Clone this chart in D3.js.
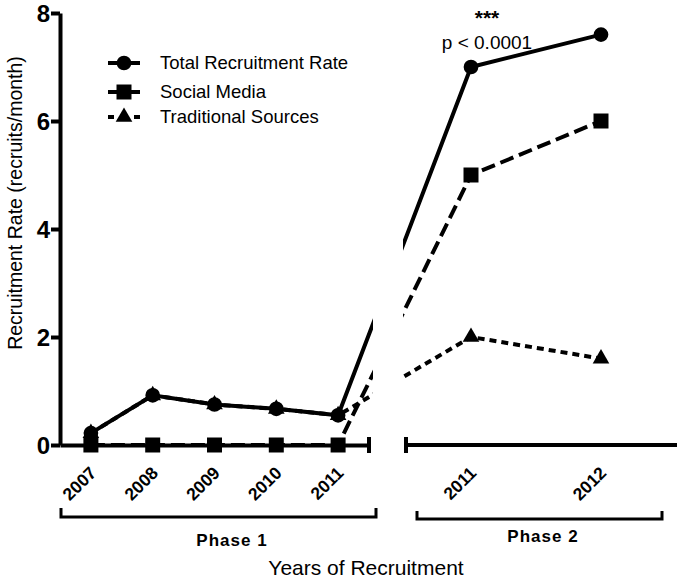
<!DOCTYPE html>
<html>
<head>
<meta charset="utf-8">
<script src="https://cdn.jsdelivr.net/npm/d3@7"></script>
<style>
  body { margin: 0; background: #fff; }
  svg { display: block; font-family: "Liberation Sans", Arial, sans-serif; }
  .axis path, .axis line { stroke: #000; stroke-width: 4; }
  .axis text { fill: #000; font-weight: bold; font-family: "Liberation Sans", Arial, sans-serif; }
</style>
</head>
<body>
<div class="chart"></div>
<script>
// categories
const phase1Years = ['2007', '2008', '2009', '2010', '2011']
const phase2Years = ['2011', '2012']
const yTicks = [0, 2, 4, 6, 8]

// series values (recruits/month), phase 1 then phase 2
const totalP1 = [0.22, 0.92, 0.75, 0.67, 0.55]
const totalP2 = [7.0, 7.6]
const socialP1 = [0, 0, 0, 0, 0]
const socialP2 = [5.0, 6.0]
const tradP1 = [0.22, 0.92, 0.75, 0.67, 0.55]
const tradP2 = [2.0, 1.6]

const seriesNames = ['Total Recruitment Rate', 'Social Media', 'Traditional Sources']

const width = 677, height = 582

const svg = d3.select('.chart').append('svg')
  .attr('width', width)
  .attr('height', height)

const yScale = d3.scaleLinear().domain([0, 8]).range([445, 13])
const x1 = d3.scalePoint().domain(phase1Years).range([60, 369]).padding(0.5)
const x2 = d3.scalePoint().domain(phase2Years).range([406, 666]).padding(0.5)

const toPoints = (p1, p2) =>
  p1.map((v, i) => ({x: x1(phase1Years[i]), y: yScale(v)}))
    .concat(p2.map((v, i) => ({x: x2(phase2Years[i]), y: yScale(v)})))

const series = [
  {name: seriesNames[0], pts: toPoints(totalP1, totalP2), dash: null, symbol: d3.symbolCircle, size: 170},
  {name: seriesNames[1], pts: toPoints(socialP1, socialP2), dash: '14,6', symbol: d3.symbolSquare, size: 225},
  {name: seriesNames[2], pts: toPoints(tradP1, tradP2), dash: '7,5', symbol: d3.symbolTriangle, size: 120}
]

// clip out the axis break
const clip = svg.append('defs').append('clipPath').attr('id', 'gap')
clip.append('rect').attr('x', 0).attr('y', 0).attr('width', 373).attr('height', height)
clip.append('rect').attr('x', 403).attr('y', 0).attr('width', width - 403).attr('height', height)

// y axis
svg.append('g')
  .attr('class', 'y axis')
  .attr('transform', 'translate(60,0)')
  .call(d3.axisLeft(yScale).tickValues(yTicks).tickSize(9).tickSizeOuter(0).tickFormat(d3.format('d')))
  .selectAll('text')
  .attr('x', -10)
  .attr('dy', '0.36em')
  .style('font-size', '24px')

// x axes
const xAxis1 = svg.append('g')
  .attr('class', 'x axis')
  .attr('transform', 'translate(0,445)')
  .call(d3.axisBottom(x1).tickSize(0).tickSizeOuter(0))

const xAxis2 = svg.append('g')
  .attr('class', 'x axis')
  .attr('transform', 'translate(0,445)')
  .call(d3.axisBottom(x2).tickSize(0).tickSizeOuter(0))

xAxis2.select('.domain').attr('d', 'M406,0H677')

;[xAxis1, xAxis2].forEach(ax => {
  ax.selectAll('text')
    .attr('x', 0).attr('y', 0).attr('dy', 0)
    .attr('text-anchor', 'end')
    .attr('transform', 'translate(6,29) rotate(-45)')
    .style('font-size', '17.5px')
})

// break caps
svg.append('line').attr('x1', 369).attr('x2', 369).attr('y1', 437).attr('y2', 453)
  .attr('stroke', '#000').attr('stroke-width', 4)
svg.append('line').attr('x1', 406).attr('x2', 406).attr('y1', 437).attr('y2', 453)
  .attr('stroke', '#000').attr('stroke-width', 4)

// lines
const line = d3.line().x(d => d.x).y(d => d.y)

series.forEach(s => {
  svg.append('path')
    .datum(s.pts)
    .attr('d', line)
    .attr('fill', 'none')
    .attr('stroke', '#000')
    .attr('stroke-width', 4)
    .attr('stroke-dasharray', s.dash)
    .attr('clip-path', 'url(#gap)')
})

// markers (triangles under, circles on top)
;[series[2], series[1], series[0]].forEach(s => {
  svg.append('g').selectAll('path')
    .data(s.pts)
    .enter().append('path')
    .attr('transform', d => 'translate(' + d.x + ',' + d.y + ')')
    .attr('d', d3.symbol().type(s.symbol).size(s.size))
    .attr('fill', '#000')
})

// legend
const legendY = [63, 92, 117]
series.forEach((s, i) => {
  const g = svg.append('g').attr('transform', 'translate(0,' + legendY[i] + ')')
  g.append('line')
    .attr('x1', 108).attr('x2', 140).attr('y1', 0).attr('y2', 0)
    .attr('stroke', '#000').attr('stroke-width', 4)
    .attr('stroke-dasharray', i === 2 ? '6,7' : null)
  g.append('path')
    .attr('transform', 'translate(124,0)')
    .attr('d', d3.symbol().type(s.symbol).size(s.size))
  g.append('text')
    .attr('x', 160).attr('y', 6)
    .style('font-size', '18.5px')
    .text(s.name)
})

// annotation
svg.append('text').attr('x', 487).attr('y', 25).attr('text-anchor', 'middle')
  .style('font-size', '21px').style('font-weight', 'bold').text('***')
svg.append('text').attr('x', 487).attr('y', 49).attr('text-anchor', 'middle')
  .style('font-size', '19px').text('p < 0.0001')

// phase brackets
svg.append('path').attr('d', 'M61,508V517H376V508')
  .attr('fill', 'none').attr('stroke', '#000').attr('stroke-width', 3)
svg.append('path').attr('d', 'M417,511V519H662V511')
  .attr('fill', 'none').attr('stroke', '#000').attr('stroke-width', 3)

svg.append('text').attr('x', 232).attr('y', 546).attr('text-anchor', 'middle')
  .style('font-size', '17px').style('font-weight', 'bold').style('letter-spacing', '1px')
  .text('Phase 1')
svg.append('text').attr('x', 543).attr('y', 542).attr('text-anchor', 'middle')
  .style('font-size', '17px').style('font-weight', 'bold').style('letter-spacing', '1px')
  .text('Phase 2')

// axis titles
svg.append('text').attr('x', 366).attr('y', 575).attr('text-anchor', 'middle')
  .style('font-size', '21px').text('Years of Recruitment')
svg.append('text')
  .attr('transform', 'translate(22,203) rotate(-90)')
  .attr('text-anchor', 'middle')
  .style('font-size', '19.5px')
  .text('Recruitment Rate (recruits/month)')
</script>
</body>
</html>
